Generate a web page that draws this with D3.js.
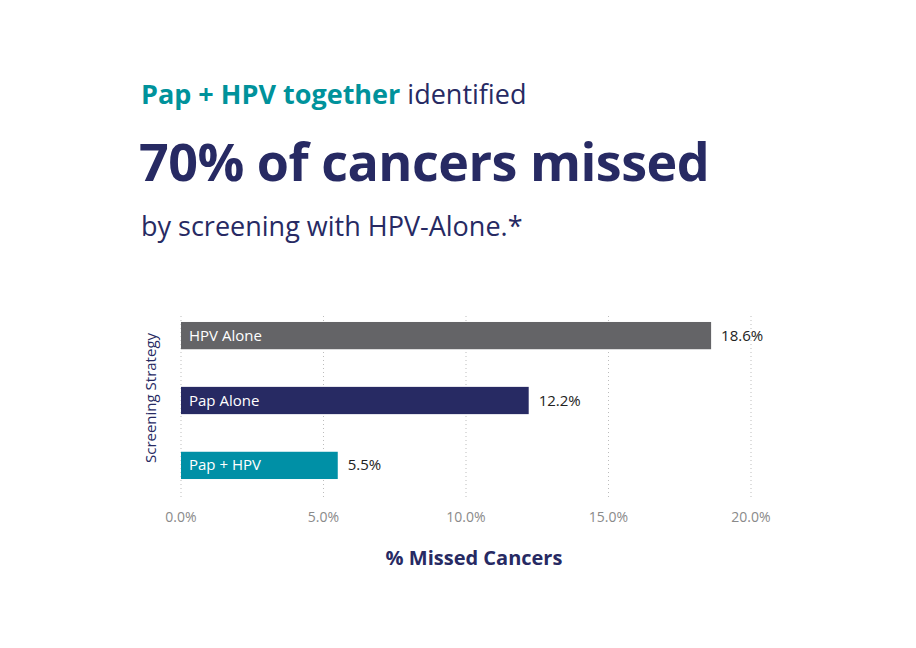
<!DOCTYPE html>
<html>
<head>
<meta charset="utf-8">
<script src="https://cdn.jsdelivr.net/npm/d3@7"></script>
<style>
  body { margin: 0; background: #fff; font-family: "Open Sans", "Noto Sans", sans-serif; }
</style>
</head>
<body>
<svg id="chart" width="916" height="648"></svg>
<script>
const categories = ['HPV Alone', 'Pap Alone', 'Pap + HPV'];
const missed = [18.6, 12.2, 5.5];
const barColors = ['#646467', '#272a63', '#0090a6'];
const ticks = [0, 5, 10, 15, 20];

const svg = d3.select('#chart');
const navy = '#272a63';

// headline
const t1 = svg.append('text').attr('x', 141).attr('y', 104)
  .attr('font-size', 27).attr('fill', navy);
t1.append('tspan').attr('font-weight', 700).attr('fill', '#00929b').text('Pap + HPV together');
t1.append('tspan').text(' identified');

svg.append('text').attr('x', 139).attr('y', 181)
  .attr('font-size', 52).attr('font-weight', 700).attr('fill', navy)
  .attr('letter-spacing', -0.5)
  .text('70% of cancers missed');

svg.append('text').attr('x', 141).attr('y', 236)
  .attr('font-size', 27).attr('fill', navy)
  .text('by screening with HPV-Alone.*');

// chart
const x = d3.scaleLinear().domain([0, 20]).range([181, 751]);
const y = d3.scaleBand().domain(categories).range([309, 492]).paddingInner(0.58).paddingOuter(0.2);

svg.append('g').selectAll('line').data(ticks).enter().append('line')
  .attr('x1', d => x(d)).attr('x2', d => x(d))
  .attr('y1', 316).attr('y2', 500)
  .attr('stroke', '#bdbdbd').attr('stroke-width', 1).attr('stroke-dasharray', '1,3');

svg.append('g').selectAll('text').data(ticks).enter().append('text')
  .attr('x', d => x(d)).attr('y', 522).attr('text-anchor', 'middle')
  .attr('font-size', 14).attr('fill', '#8a8a8a')
  .text(d => d.toFixed(1) + '%');

const bars = svg.append('g').selectAll('g').data(categories).enter().append('g');
bars.append('rect')
  .attr('x', x(0)).attr('y', d => y(d))
  .attr('width', (d, i) => x(missed[i]) - x(0))
  .attr('height', y.bandwidth())
  .attr('fill', (d, i) => barColors[i]);
bars.append('text')
  .attr('x', x(0) + 8).attr('y', d => y(d) + y.bandwidth() / 2 + 5)
  .attr('font-size', 15).attr('fill', '#fff').text(d => d);
bars.append('text')
  .attr('x', (d, i) => x(missed[i]) + 10).attr('y', d => y(d) + y.bandwidth() / 2 + 5)
  .attr('font-size', 15).attr('fill', '#222')
  .text((d, i) => missed[i].toFixed(1) + '%');

svg.append('text').attr('transform', 'translate(156,398) rotate(-90)')
  .attr('text-anchor', 'middle').attr('font-size', 15).attr('fill', navy)
  .text('Screening Strategy');

svg.append('text').attr('x', 474).attr('y', 565).attr('text-anchor', 'middle')
  .attr('font-size', 20).attr('font-weight', 700).attr('fill', navy)
  .text('% Missed Cancers');
</script>
</body>
</html>
